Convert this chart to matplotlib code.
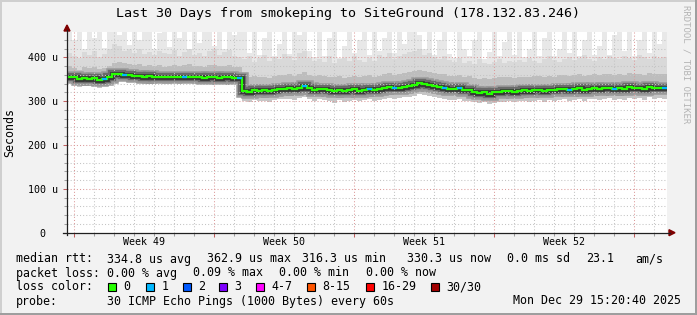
import matplotlib
import matplotlib.dates as mdates
import matplotlib.pyplot as plt
import numpy as np
import pandas as pd
from matplotlib.lines import Line2D
from matplotlib.patches import Polygon, Rectangle

matplotlib.use("Agg")

W, H = 697, 315
MONO = "DejaVu Sans Mono"

# 30 days of 6-hour bins, values in microseconds
start = "2025-11-29 15:20:40"
bin_freq = "6h"

median_us = [
    356, 354, 351, 352, 350, 352, 349, 351, 354, 361,
    362, 360, 359, 358, 357, 356, 357, 355, 356, 354,
    355, 356, 354, 355, 356, 354, 355, 353, 354, 355,
    353, 354, 355, 353, 352, 323, 322, 325, 324, 326,
    323, 325, 327, 328, 330, 327, 331, 334, 329, 326,
    328, 327, 325, 324, 326, 323, 325, 327, 324, 326,
    328, 325, 327, 330, 332, 329, 331, 333, 334, 336,
    342, 339, 337, 334, 332, 331, 328, 327, 329, 325,
    326, 322, 319, 321, 317, 320, 322, 323, 324, 322,
    324, 325, 323, 325, 326, 324, 326, 325, 327, 328,
    325, 327, 329, 326, 328, 330, 327, 329, 331, 328,
    330, 327, 332, 329, 331, 328, 333, 330, 331, 330,
]
lowest_us = [
    342, 339, 333, 337, 334, 338, 329, 336, 340, 346,
    347, 345, 344, 343, 342, 340, 343, 340, 341, 339,
    340, 342, 339, 341, 342, 338, 340, 338, 340, 341,
    338, 339, 341, 338, 337, 300, 298, 302, 300, 301,
    299, 302, 304, 305, 306, 302, 307, 309, 305, 301,
    304, 303, 300, 296, 302, 299, 301, 303, 300, 302,
    304, 300, 303, 306, 308, 304, 307, 309, 310, 312,
    317, 314, 312, 309, 307, 306, 303, 302, 305, 300,
    301, 297, 295, 297, 293, 296, 298, 299, 300, 297,
    300, 301, 298, 301, 302, 299, 302, 300, 303, 304,
    300, 303, 305, 301, 304, 306, 302, 305, 307, 303,
    306, 302, 308, 304, 307, 303, 309, 305, 307, 306,
]
upper90_us = [
    380, 376, 372, 378, 375, 377, 373, 376, 380, 388,
    390, 386, 385, 383, 384, 381, 383, 380, 382, 379,
    381, 383, 380, 382, 384, 380, 381, 379, 382, 383,
    380, 381, 382, 379, 378, 352, 355, 358, 354, 356,
    353, 357, 359, 360, 362, 358, 363, 366, 360, 357,
    359, 358, 356, 354, 357, 353, 356, 358, 355, 357,
    359, 356, 358, 361, 364, 360, 362, 365, 366, 368,
    372, 369, 367, 364, 362, 361, 358, 357, 360, 356,
    357, 353, 351, 353, 350, 352, 355, 354, 356, 353,
    355, 356, 354, 357, 358, 355, 357, 356, 359, 360,
    357, 359, 361, 358, 360, 362, 359, 361, 363, 360,
    362, 359, 364, 361, 363, 360, 365, 362, 363, 362,
]
upper95_us = [
    410, 402, 398, 412, 405, 415, 400, 408, 418, 430,
    425, 415, 420, 410, 418, 408, 412, 405, 415, 410,
    408, 416, 404, 412, 420, 406, 410, 403, 414, 418,
    405, 411, 416, 404, 400, 395, 402, 390, 398, 405,
    392, 400, 396, 408, 402, 394, 410, 415, 398, 392,
    396, 390, 402, 388, 395, 399, 392, 404, 394, 390,
    398, 392, 405, 400, 410, 396, 402, 408, 412, 415,
    418, 406, 410, 400, 396, 402, 394, 390, 398, 388,
    392, 385, 395, 388, 384, 390, 396, 386, 392, 389,
    394, 390, 398, 392, 388, 396, 402, 394, 390, 397,
    400, 393, 398, 405, 396, 392, 400, 395, 404, 398,
    396, 402, 398, 394, 405, 400, 396, 403, 398, 400,
]
highest_us = [
    470, 440, 470, 418, 470, 445, 470, 422, 470, 470,
    450, 470, 428, 470, 440, 470, 470, 420, 455, 470,
    424, 470, 445, 470, 420, 470, 432, 470, 470, 425,
    470, 418, 470, 450, 470, 470, 410, 470, 405, 445,
    470, 402, 430, 470, 408, 470, 450, 470, 415, 400,
    470, 404, 445, 470, 398, 425, 470, 410, 440, 470,
    405, 470, 415, 445, 470, 410, 470, 430, 470, 470,
    450, 418, 470, 405, 440, 470, 408, 398, 470, 420,
    402, 440, 470, 396, 412, 470, 404, 435, 470, 406,
    470, 400, 420, 470, 404, 445, 470, 402, 418, 470,
    410, 470, 402, 440, 470, 405, 425, 470, 406, 450,
    470, 415, 470, 404, 440, 470, 410, 470, 430, 470,
]
# bins where one ping of 30 was lost
one_loss_bins = [7, 11, 23, 34, 47, 60, 65, 75, 78, 100, 109, 119]

loss_legend = ["0", "1", "2", "3", "4-7", "8-15", "16-29", "30/30"]
loss_colors = ["#26ff00", "#00b8ff", "#0059ff", "#7e00ff",
               "#ff00ff", "#ff5500", "#ff0000", "#a10000"]

week_labels = ["Week 49", "Week 50", "Week 51", "Week 52"]
week_middles = ["2025-12-03 12:00", "2025-12-10 12:00", "2025-12-17 12:00", "2025-12-24 12:00"]
week_starts = ["2025-11-30", "2025-12-07", "2025-12-14", "2025-12-21", "2025-12-28"]

title = "Last 30 Days from smokeping to SiteGround (178.132.83.246)"
stat_rows = [
    (259, [(16, "median rtt:"), (107, "334.8 us avg"), (207, "362.9 us max"),
           (302, "316.3 us min"), (407, "330.3 us now"), (507, "0.0 ms sd"),
           (586, "23.1"), (635, "am/s")]),
    (273, [(16, "packet loss:"), (107, "0.00 % avg"), (193, "0.09 % max"),
           (279, "0.00 % min"), (366, "0.00 % now")]),
    (287, [(16, "loss color:")]),
    (301, [(16, "probe:"), (107, "30 ICMP Echo Pings (1000 Bytes) every 60s"),
           (513, "Mon Dec 29 15:20:40 2025")]),
]
box_x = [108, 146, 183, 219, 256, 307, 366, 431]


def fx(x):
    return x / W


def fy(y):
    return 1 - y / H


edges_dt = pd.date_range(start, periods=len(median_us) + 1, freq=bin_freq)
edges = mdates.date2num(edges_dt.to_pydatetime())
median = np.array(median_us, dtype=float)

fig = plt.figure(figsize=(W / 100, H / 100), dpi=100, facecolor="#f2f2f2")
ax = fig.add_axes([fx(67), fy(232.7), 600 / W, (232.7 - 32) / H])
ax.set_facecolor("white")
ax.set_xlim(edges[0], edges[-1])
ax.set_ylim(0, 457.7)

# smoke
ax.stairs(highest_us, edges, baseline=upper95_us, fill=True, color="#e8e8e8", lw=0, zorder=1)
ax.stairs(upper95_us, edges, baseline=lowest_us, fill=True, color="#d9d9d9", lw=0, zorder=1.2)
ax.stairs(upper90_us, edges, baseline=median, fill=True, color="#bdbdbd", lw=0, zorder=1.4)
ax.stairs(median, edges, baseline=lowest_us, fill=True, color="#c6c6c6", lw=0, zorder=1.4)
ax.stairs(median, edges, baseline=None, color="#9a9a9a", lw=9.0, zorder=1.6)
ax.stairs(median, edges, baseline=None, color="#6a6a6a", lw=6.0, zorder=1.7)
ax.stairs(median, edges, baseline=None, color="#333333", lw=3.4, zorder=1.8)

# grid (rrdtool draws it over the smoke)
grid_minor = dict(color="#c4c4c4", lw=0.75, ls=(0, (1, 2)), zorder=3)
grid_major = dict(color="#dc9a9a", lw=0.75, ls=(0, (1, 2)), zorder=3.1)
for v in range(20, 460, 20):
    ax.axhline(v, **(grid_major if v % 100 == 0 else grid_minor))
week_nums = mdates.date2num(pd.to_datetime(week_starts).to_pydatetime())
days = mdates.date2num(pd.date_range("2025-11-30", "2025-12-29", freq="D").to_pydatetime())
for d in days:
    ax.axvline(d, **(grid_major if np.any(np.isclose(d, week_nums)) else grid_minor))

# median line coloured by loss
ax.stairs(median, edges, baseline=None, color=loss_colors[0], lw=1.6, zorder=5)
for i in one_loss_bins:
    ax.hlines(median[i], edges[i], edges[i + 1], color=loss_colors[1], lw=1.6, zorder=6)

# axes, ticks
for s in ax.spines.values():
    s.set_visible(False)
ax.set_yticks([0, 100, 200, 300, 400])
ax.set_yticks(np.arange(20, 460, 20), minor=True)
ax.set_yticklabels(["0  ", "100 u", "200 u", "300 u", "400 u"], fontfamily=MONO, fontsize=7.2)
ax.set_xticks(week_nums)
ax.set_xticks(days, minor=True)
ax.set_xticklabels([])
ax.tick_params(axis="y", which="major", length=3, width=0.75, color="#c06060", pad=3.6)
ax.tick_params(axis="y", which="minor", length=2, width=0.75, color="#a0a0a0")
ax.tick_params(axis="x", which="major", length=3, width=0.75, color="#c06060")
ax.tick_params(axis="x", which="minor", length=2, width=0.75, color="#a0a0a0")

mid_nums = mdates.date2num(pd.to_datetime(week_middles).to_pydatetime())
for m, lab in zip(mid_nums, week_labels):
    ax.text(m, -0.045, lab, transform=ax.get_xaxis_transform(), ha="center", va="center",
            fontfamily=MONO, fontsize=7.2)

# axis lines with arrows
fig.add_artist(Line2D([fx(63), fx(670)], [fy(232.7), fy(232.7)], color="#202020", lw=0.9))
fig.add_artist(Line2D([fx(67), fx(67)], [fy(235), fy(30)], color="#202020", lw=0.9))
fig.add_artist(Polygon([[fx(64), fy(31)], [fx(70), fy(31)], [fx(67), fy(25)]],
                       closed=True, color="#7f0000", transform=fig.transFigure))
fig.add_artist(Polygon([[fx(669), fy(229.7)], [fx(669), fy(235.7)], [fx(675), fy(232.7)]],
                       closed=True, color="#7f0000", transform=fig.transFigure))

# texts
fig.text(0.5, fy(14), title, ha="center", va="center", fontfamily=MONO, fontsize=9.6)
fig.text(fx(10), fy(132.5), "Seconds", rotation=90, ha="center", va="center",
         fontfamily=MONO, fontsize=8.35)
fig.text(fx(686), fy(5), "RRDTOOL / TOBI OETIKER", rotation=270, ha="center", va="top",
         fontfamily=MONO, fontsize=6.5, color="#b4b4b4")

for y, pieces in stat_rows:
    for x, s in pieces:
        fig.text(fx(x), fy(y), s, ha="left", va="center", fontfamily=MONO, fontsize=8.35)

for x, lab, col in zip(box_x, loss_legend, loss_colors):
    fig.add_artist(Rectangle((fx(x), fy(291)), 8 / W, 8 / H, facecolor=col, edgecolor="black",
                             lw=0.8, transform=fig.transFigure))
    fig.text(fx(x + 15.5), fy(287), lab, ha="left", va="center", fontfamily=MONO, fontsize=8.35)

# 3d-ish frame
fig.add_artist(Rectangle((0, 0), fx(2), 1, color="#cfcfcf", transform=fig.transFigure, lw=0))
fig.add_artist(Rectangle((0, fy(2)), 1, 2 / H, color="#cfcfcf", transform=fig.transFigure, lw=0))
fig.add_artist(Rectangle((fx(695), 0), fx(2), 1, color="#9e9e9e", transform=fig.transFigure, lw=0))
fig.add_artist(Rectangle((0, 0), 1, 2 / H, color="#9e9e9e", transform=fig.transFigure, lw=0))

fig.savefig("out.png", dpi=100, facecolor=fig.get_facecolor())
